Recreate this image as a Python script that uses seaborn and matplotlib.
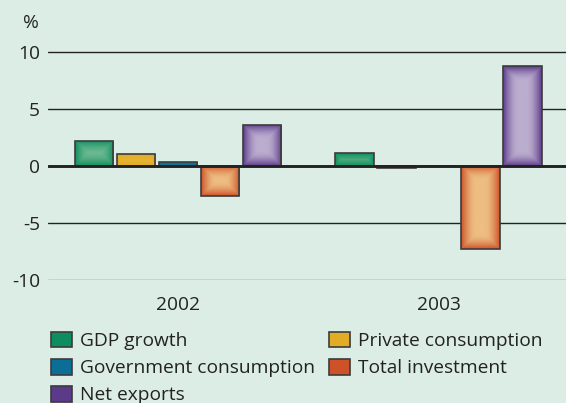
import numpy as np
import pandas as pd
import matplotlib
matplotlib.use("Agg")
import matplotlib.pyplot as plt
import seaborn as sns
from matplotlib.colors import to_rgb
from matplotlib.patches import Patch

# ---- data -------------------------------------------------------------
years = ["2002", "2003"]
series = ["GDP growth", "Private consumption", "Government consumption",
          "Total investment", "Net exports"]
values_2002 = [2.2, 1.0, 0.3, -2.7, 3.6]
values_2003 = [1.1, -0.2, 0.0, -7.3, 8.7]
y_ticks = [-10, -5, 0, 5, 10]
y_unit = "%"

# ---- styling ----------------------------------------------------------
base_colors = ["#0E8E5E", "#E2AD24", "#0B6E96", "#CF5127", "#5B3A8A"]
center_colors = ["#6FBA93", "#EAB83E", "#2F8AAE", "#EDBD82", "#BBADCE"]
bg = "#DCEDE6"
ink = "#222222"
outline = "#3C3C3C"
fs = 13.8

sns.set_theme(style="white")
plt.rcParams["font.family"] = ["Open Sans", "DejaVu Sans"]
plt.rcParams["text.color"] = ink
plt.rcParams["xtick.color"] = ink
plt.rcParams["ytick.color"] = ink

W, H = 566, 403
fig = plt.figure(figsize=(W / 100, H / 100), dpi=100, facecolor=bg)
ax = fig.add_axes([48.3 / W, 123.3 / H, (569.3 - 48.3) / W, (362.9 - 123.3) / H])
ax.set_facecolor(bg)

df = pd.DataFrame({
    "year": np.repeat(years, len(series)),
    "series": series * len(years),
    "value": values_2002 + values_2003,
})

sns.barplot(data=df, x="year", y="value", hue="series", hue_order=series,
            palette=base_colors, width=0.806, gap=0.088, edgecolor=outline,
            linewidth=1.2, legend=False, ax=ax, zorder=3)

xlim = (-0.498, 1.502)
ylim = (-10, 11)
ax.set_xlim(*xlim)
ax.set_ylim(*ylim)

# gridlines and heavy zero line
for t in y_ticks:
    if t == 0:
        ax.axhline(0, color=ink, lw=2.1, zorder=6)
    else:
        ax.axhline(t, color=ink if t > -10 else "#6E6E6E", lw=1.0, zorder=1)

# shaded fill: colour lightens from the bar edges towards its centre
fade_px = 15.0
for patch in list(ax.patches):
    fc = patch.get_facecolor()
    idx = int(np.argmin([np.sum((np.array(to_rgb(c)) - np.array(fc[:3])) ** 2)
                         for c in base_colors]))
    x0, y0 = patch.get_x(), patch.get_y()
    w, h = patch.get_width(), patch.get_height()
    if abs(h) < 1e-9:
        continue
    (px0, py0) = ax.transData.transform((x0, y0))
    (px1, py1) = ax.transData.transform((x0 + w, y0 + h))
    wp, hp = int(round(abs(px1 - px0))), int(round(abs(py1 - py0)))
    wp, hp = max(wp, 2), max(hp, 2)
    ii = np.arange(hp)[:, None] + 0.5
    jj = np.arange(wp)[None, :] + 0.5
    d = np.minimum(np.minimum(ii, hp - ii), np.minimum(jj, wp - jj))
    t = np.clip(d / fade_px, 0, 1)
    t = np.sin(t * np.pi / 2)
    c0 = np.array(to_rgb(base_colors[idx]))
    c1 = np.array(to_rgb(center_colors[idx]))
    img = c0[None, None, :] + (c1 - c0)[None, None, :] * t[..., None]
    lo, hi = sorted([y0, y0 + h])
    im = ax.imshow(img, extent=[x0, x0 + w, lo, hi], origin="lower",
                   aspect="auto", zorder=3, interpolation="bilinear")
    im.set_clip_path(patch)
    patch.set_facecolor("none")
    patch.set_zorder(4)

ax.set_xlim(*xlim)
ax.set_ylim(*ylim)

ax.set_yticks(y_ticks)
ax.set_yticklabels([str(v) for v in y_ticks])
ax.tick_params(axis="y", length=0, pad=6, labelsize=fs)
ax.tick_params(axis="x", length=0, pad=12, labelsize=fs)
ax.set_xlabel("")
ax.set_ylabel("")
for s in ax.spines.values():
    s.set_visible(False)

fig.text(31 / W, 1 - 23 / H, y_unit, ha="center", va="center", fontsize=fs)

# legend fills row by row: GDP | Private / Government | Investment / Net exports
handles = {s: Patch(facecolor=c, edgecolor=outline, linewidth=1.2, label=s)
           for c, s in zip(base_colors, series)}
order = [series[0], series[2], series[4], series[1], series[3]]
fig.legend(handles=[handles[s] for s in order], ncol=2, loc="upper left",
           bbox_to_anchor=(51 / W, 1 - 331.5 / H), frameon=False,
           fontsize=fs, handlelength=1.1, handleheight=0.9,
           handletextpad=0.4, columnspacing=0.75, labelspacing=0.45,
           borderpad=0, borderaxespad=0)

fig.savefig("out.png", dpi=100, facecolor=bg)
